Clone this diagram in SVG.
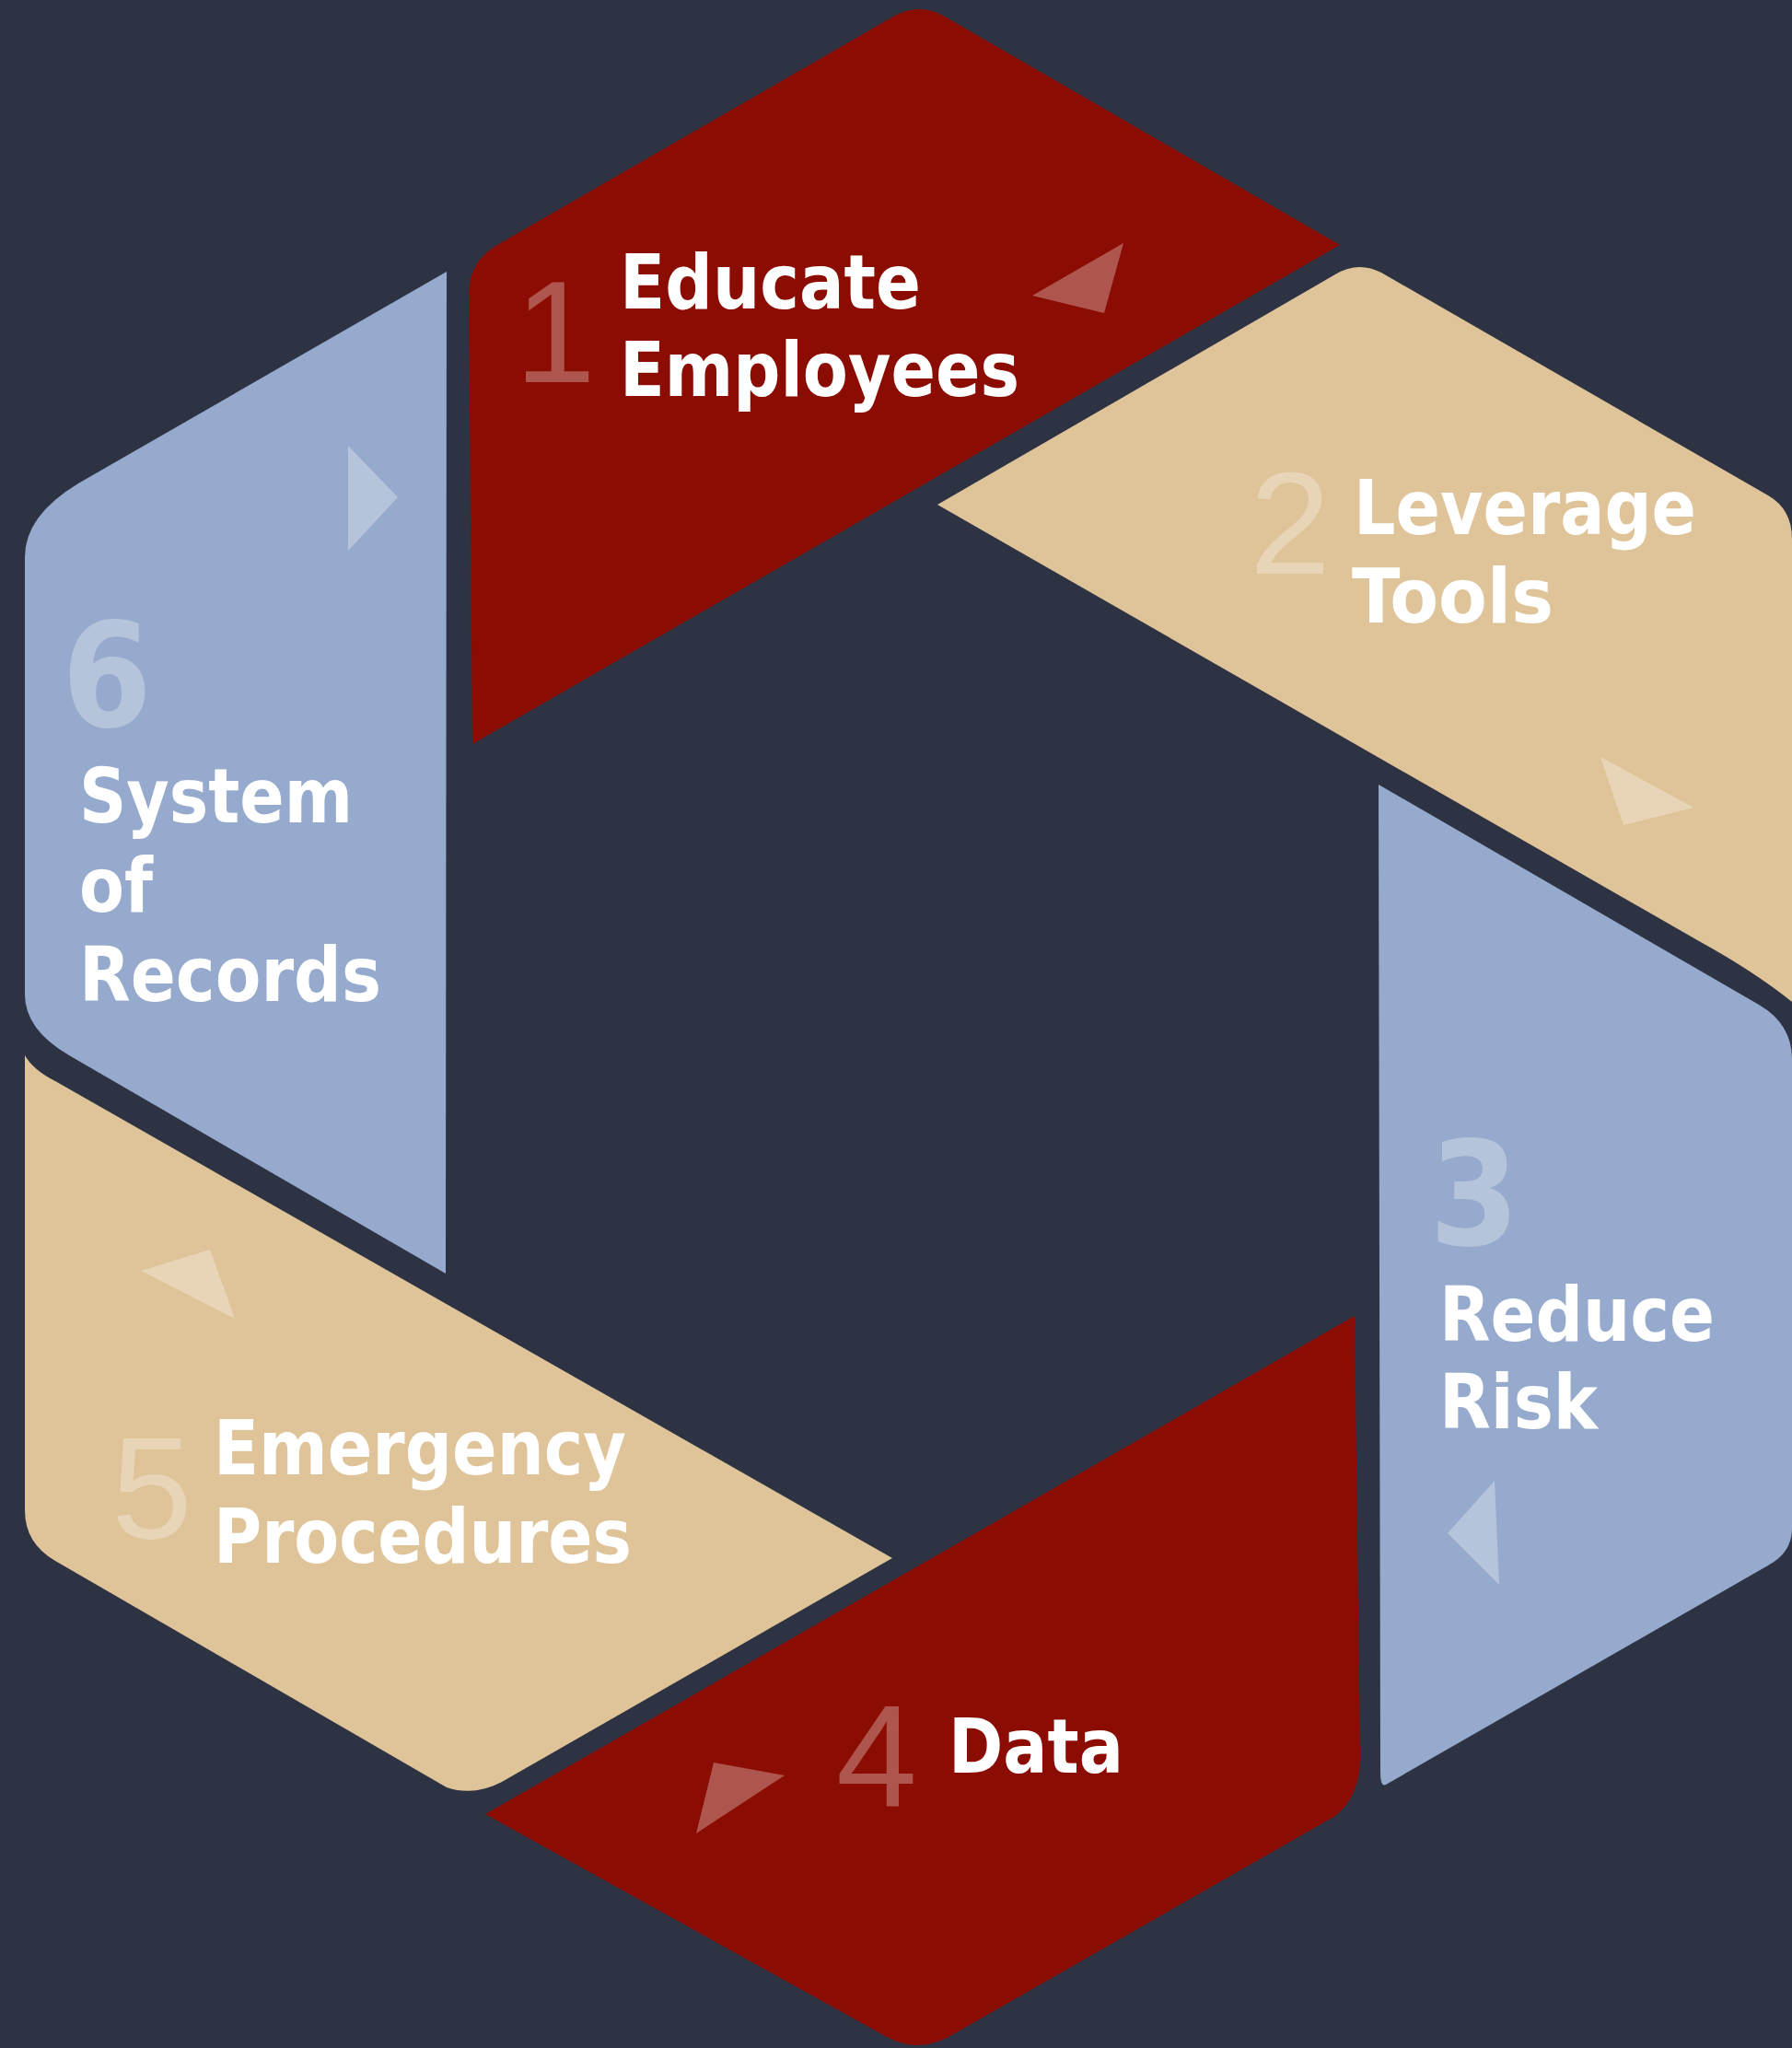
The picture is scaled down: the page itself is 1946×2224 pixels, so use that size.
<svg xmlns="http://www.w3.org/2000/svg" width="1946" height="2224" viewBox="0 0 1946 2224">
<style>
.red{fill:#8B0C02}
.tan{fill:#DFC399}
.blue{fill:#95AACC}
.lbl{font-family:"DejaVu Sans Condensed","DejaVu Sans",sans-serif;font-weight:bold;font-size:82px;fill:#FFFFFF}
.num{font-family:"Liberation Sans",Arial,sans-serif;font-size:158px;fill:#FFFFFF;fill-opacity:0.3;text-anchor:middle}
.numb{font-family:"DejaVu Sans Condensed","DejaVu Sans",sans-serif;font-weight:bold;font-size:156px;fill:#FFFFFF;fill-opacity:0.3;text-anchor:middle}
.arr{fill:#FFFFFF;fill-opacity:0.3}
</style>
<rect x="0" y="0" width="1946" height="2224" fill="#2E3344"/>
<g id="node1">
<path class="red" d="M 513,808 L 509,320 Q 509,284 540,266 L 970,18 Q 998,2 1026,18 L 1455,266 Z"/>
<text class="num" x="603" y="415">1</text>
<text class="lbl" x="673" y="335" textLength="327" lengthAdjust="spacingAndGlyphs">Educate</text>
<text class="lbl" x="673" y="430" textLength="434" lengthAdjust="spacingAndGlyphs">Employees</text>
</g>
<g id="node2">
<path class="tan" d="M 1018,548 L 1450,298 Q 1475,283 1500,296 L 1920,538 Q 1946,553 1946,585 L 1946,1088 Q 1905,1055 1845,1022 Z"/>
<text class="num" x="1401" y="623">2</text>
<text class="lbl" x="1470" y="580" textLength="372" lengthAdjust="spacingAndGlyphs">Leverage</text>
<text class="lbl" x="1468" y="676" textLength="219" lengthAdjust="spacingAndGlyphs">Tools</text>
</g>
<g id="node3">
<path class="blue" d="M 1497,852 L 1910,1091 Q 1946,1112 1946,1150 L 1946,1660 Q 1946,1686 1920,1700 L 1505,1938 Q 1499,1941 1499,1925 Z"/>
<text class="numb" x="1601" y="1352">3</text>
<text class="lbl" x="1563" y="1456" textLength="299" lengthAdjust="spacingAndGlyphs">Reduce</text>
<text class="lbl" x="1563" y="1551" textLength="172" lengthAdjust="spacingAndGlyphs">Risk</text>
</g>
<g id="node4">
<path class="red" d="M 1471,1429 L 1477,1905 Q 1478,1950 1450,1972 L 1030,2212 Q 997,2230 963,2212 L 527,1970 Z"/>
<text class="num" x="952" y="1962">4</text>
<text class="lbl" x="1030" y="1925" textLength="190" lengthAdjust="spacingAndGlyphs">Data</text>
</g>
<g id="node5">
<path class="tan" d="M 27,1146 Q 36,1162 60,1174 L 969,1692 L 545,1935 Q 515,1951 485,1941 L 60,1695 Q 27,1676 27,1640 Z"/>
<text class="num" x="165" y="1670">5</text>
<text class="lbl" x="232" y="1601" textLength="448" lengthAdjust="spacingAndGlyphs">Emergency</text>
<text class="lbl" x="232" y="1697" textLength="454" lengthAdjust="spacingAndGlyphs">Procedures</text>
</g>
<g id="node6">
<path class="blue" d="M 485,295 L 484,1383 L 75,1146 Q 27,1118 27,1080 L 27,605 Q 27,560 85,525 Z"/>
<text class="numb" x="116" y="789">6</text>
<text class="lbl" x="86" y="893" textLength="297" lengthAdjust="spacingAndGlyphs">System</text>
<text class="lbl" x="86" y="990" textLength="80" lengthAdjust="spacingAndGlyphs">of</text>
<text class="lbl" x="86" y="1087" textLength="328" lengthAdjust="spacingAndGlyphs">Records</text>
</g>
<g id="connectors">
<polygon class="arr" points="1220,264 1121,321 1199,340"/>
<polygon class="arr" points="1738,822 1839,877 1763,896"/>
<polygon class="arr" points="1623,1608 1572,1665 1628,1721"/>
<polygon class="arr" points="775,1914 852,1928 756,1991"/>
<polygon class="arr" points="228,1357 153,1380 255,1432"/>
<polygon class="arr" points="378,484 432,540 378,598"/>
</g>
</svg>
